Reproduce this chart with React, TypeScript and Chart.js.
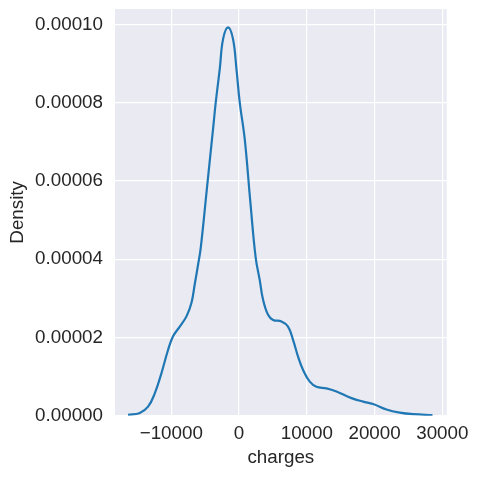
import React, { useEffect, useRef } from "react";
import { Chart, registerables } from "chart.js";

Chart.register(...registerables);

// KDE curve (charges vs density)
const chargesX: number[] = [
  -16380, -14650, -13430, -12440, -11450, -10480, -9740, -8750, -7760, -7030,
  -6540, -6050, -5650, -4750, -3840, -3440, -2850, -2360, -1620, -890, -380,
  100, 840, 1650, 2450, 3060, 3540, 4280, 5020, 6260, 7230, 7970, 8710, 9450,
  10440, 11420, 12900, 14380, 16600, 18300, 19780, 21760, 23720, 25680, 28550,
];
const densityY: number[] = [
  0.2, 0.7, 2.3, 5.7, 10.9, 16.8, 20.3, 22.8, 25.4, 28.8, 33.6, 38.6, 43.0, 58,
  73.3, 80.1, 88.6, 96.3, 99.3, 96.3, 88.6, 80.1, 70.7, 55, 40.5, 34.6, 29.7,
  25.8, 24.5, 24.1, 22.8, 19.4, 15.1, 11.7, 8.7, 7.4, 7.0, 6.2, 4.5, 3.6, 3.0,
  1.6, 0.8, 0.4, 0.15,
].map((v) => v * 1e-6);

const xTicks: number[] = [-10000, 0, 10000, 20000, 30000];
const yTicks: number[] = [0, 0.00002, 0.00004, 0.00006, 0.00008, 0.0001];

const FONT = "'Liberation Sans', Arial, sans-serif";
const TEXT = "#262626";
const FS = 18.8;

const bgPlugin = {
  id: "bgPlugin",
  beforeDraw(chart: any) {
    const { ctx, chartArea } = chart;
    ctx.save();
    ctx.fillStyle = "#EAEAF2";
    ctx.fillRect(chartArea.left, chartArea.top, chartArea.right - chartArea.left, chartArea.bottom - chartArea.top);
    ctx.restore();
  },
};

export default function App() {
  const ref = useRef<HTMLCanvasElement | null>(null);
  useEffect(() => {
    if (!ref.current) return;
    const data = chargesX.map((x, i) => ({ x, y: densityY[i] }));
    const chart = new Chart(ref.current, {
      type: "line",
      data: {
        datasets: [
          {
            data,
            borderColor: "#1f77b4",
            borderWidth: 2.2,
            pointRadius: 0,
            fill: false,
            tension: 0.4,
          } as any,
        ],
      },
      plugins: [bgPlugin],
      options: {
        animation: false,
        responsive: false,
        maintainAspectRatio: false,
        layout: { padding: { top: 9, right: 32.3, left: 0, bottom: 0 } },
        plugins: { legend: { display: false }, tooltip: { enabled: false } },
        scales: {
          x: {
            type: "linear",
            min: -18310,
            max: 30650,
            afterBuildTicks: (s: any) => {
              s.ticks = xTicks.map((v) => ({ value: v }));
            },
            afterFit: (s: any) => {
              s.height = 61.3;
              s.paddingLeft = 0;
              s.paddingRight = 0;
            },
            grid: { color: "#ffffff", lineWidth: 1.2, drawTicks: false },
            border: { display: false },
            ticks: {
              padding: 7,
              color: TEXT,
              font: { family: FONT, size: FS },
              maxRotation: 0,
              callback: (v: any) => String(v).replace("-", "\u2212"),
            },
            title: {
              display: true,
              text: "charges",
              color: TEXT,
              font: { family: FONT, size: FS },
              padding: { top: 0, bottom: 8 },
            },
          },
          y: {
            type: "linear",
            min: 0,
            max: 0.000104,
            afterBuildTicks: (s: any) => {
              s.ticks = yTicks.map((v) => ({ value: v }));
            },
            afterFit: (s: any) => {
              s.width = 115;
              s.paddingTop = 0;
              s.paddingBottom = 0;
            },
            grid: { color: "#ffffff", lineWidth: 1.2, drawTicks: false },
            border: { display: false },
            ticks: {
              padding: 12,
              color: TEXT,
              font: { family: FONT, size: FS },
              callback: (v: any) => Number(v).toFixed(5),
            },
            title: {
              display: true,
              text: "Density",
              color: TEXT,
              font: { family: FONT, size: FS },
              padding: { top: 7, bottom: 0 },
            },
          },
        },
      },
    });
    return () => chart.destroy();
  }, []);
  return (
    <div style={{ position: "fixed", left: 0, top: 0, width: 479, height: 477, background: "#fff" }}>
      <canvas ref={ref} width={479} height={477} style={{ width: 479, height: 477, display: "block" }} />
    </div>
  );
}
